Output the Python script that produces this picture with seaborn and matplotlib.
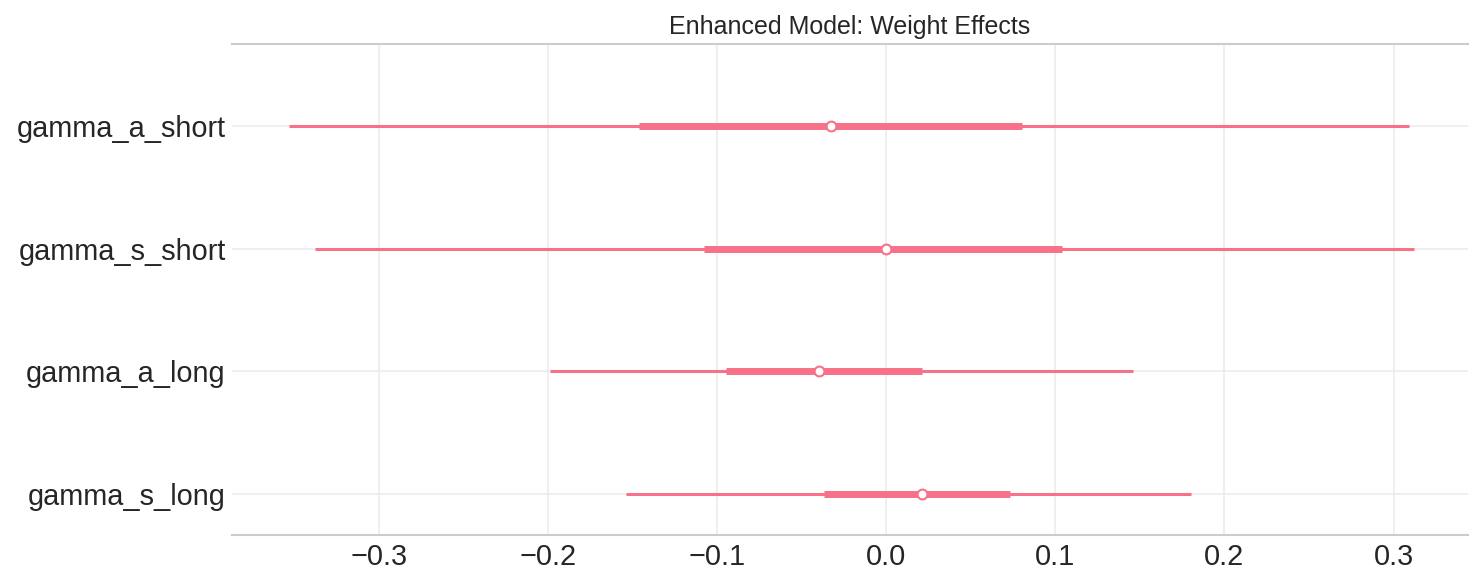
import numpy as np
import pandas as pd
import matplotlib
matplotlib.use("Agg")
import matplotlib.pyplot as plt
import seaborn as sns

params = ["gamma_a_short", "gamma_s_short", "gamma_a_long", "gamma_s_long"]
median = [-0.033, 0.000, -0.040, 0.021]
hdi_low = [-0.353, -0.338, -0.199, -0.154]
hdi_high = [0.309, 0.312, 0.146, 0.180]
iqr_low = [-0.146, -0.108, -0.095, -0.037]
iqr_high = [0.080, 0.104, 0.021, 0.073]
xticks = [-0.3, -0.2, -0.1, 0.0, 0.1, 0.2, 0.3]

df = pd.DataFrame({"param": params, "median": median, "lo": hdi_low, "hi": hdi_high,
                   "qlo": iqr_low, "qhi": iqr_high})

sns.set_theme(style="whitegrid")
plt.rcParams["font.family"] = ["Liberation Sans", "DejaVu Sans"]
color = sns.color_palette("husl", 8)[0]

fig = plt.figure(figsize=(14.84, 5.85), dpi=100)
ax = fig.add_axes([0.1563, 0.0855, 0.9892 - 0.1563, 0.9248 - 0.0855])

ypos = np.arange(len(params))
ax.hlines(ypos, df["lo"], df["hi"], color=color, lw=2.2, zorder=3)
ax.hlines(ypos, df["qlo"], df["qhi"], color=color, lw=5.0, zorder=4)
sns.scatterplot(x=df["median"], y=ypos, ax=ax, color="white", edgecolor=color,
                s=50, linewidth=1.5, zorder=5, legend=False)

ax.set_yticks(ypos)
ax.set_yticklabels(params)
ax.set_xticks(xticks)
ax.set_xticklabels([f"{t:.1f}".replace("-", "\u2212") for t in xticks])
ax.set_xlim(-0.387, 0.344)
ax.set_ylim(3.333, -0.667)
ax.set_xlabel("")
ax.set_ylabel("")
ax.tick_params(axis="both", labelsize=20.8, length=0, colors="#262626")
ax.tick_params(axis="x", pad=6)
ax.tick_params(axis="y", pad=4.5)
ax.grid(True, color="#ececec", lw=1.2)
for s in ["left", "right"]:
    ax.spines[s].set_visible(False)
for s in ["top", "bottom"]:
    ax.spines[s].set_color("#cccccc")
    ax.spines[s].set_linewidth(1.5)
ax.set_title("Enhanced Model: Weight Effects", fontsize=18, color="#262626", pad=7.5)

fig.savefig("out.png", dpi=100)
